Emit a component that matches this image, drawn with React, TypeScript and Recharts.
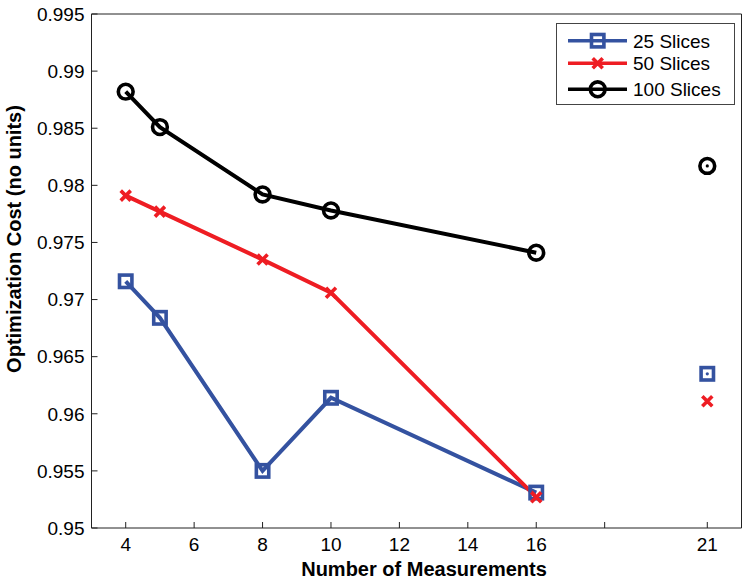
import { LineChart, Line, XAxis, YAxis, Legend, Label } from 'recharts';

const measurements = [4, 5, 8, 10, 16];
const slices25 = [0.9716, 0.9684, 0.955, 0.9614, 0.9531];
const slices50 = [0.9791, 0.9777, 0.9735, 0.9706, 0.9527];
const slices100 = [0.9882, 0.9851, 0.9792, 0.9778, 0.9741];

// lone points at 21 measurements (not joined to the lines)
const extraMeasurement = 21;
const extra25 = 0.9635;
const extra50 = 0.9611;
const extra100 = 0.9817;

const xTicks = [4, 6, 8, 10, 12, 14, 16, 18, 21];
const yTicks = [0.95, 0.955, 0.96, 0.965, 0.97, 0.975, 0.98, 0.985, 0.99, 0.995];

const BLUE = '#3452a0';
const RED = '#ee1d23';
const BLACK = '#000000';
const FONT = '"Liberation Sans", Arial, Helvetica, sans-serif';

const rows: any[] = measurements.map((m, i) => ({
  m,
  s25: slices25[i],
  s50: slices50[i],
  s100: slices100[i],
}));
rows.push({ m: extraMeasurement, e25: extra25, e50: extra50, e100: extra100 });

type Shape = 'square' | 'cross' | 'circle';

function marker(shape: Shape, color: string, cx: number, cy: number, key: string, centerDot = false) {
  const sw = 3.6;
  let body;
  if (shape === 'square') {
    body = <rect x={cx - 6.2} y={cy - 6.2} width={12.4} height={12.4} fill="none" stroke={color} strokeWidth={sw} />;
  } else if (shape === 'circle') {
    body = <circle cx={cx} cy={cy} r={7.4} fill="none" stroke={color} strokeWidth={sw} />;
  } else {
    body = (
      <path
        d={`M${cx - 5},${cy - 5}L${cx + 5},${cy + 5}M${cx - 5},${cy + 5}L${cx + 5},${cy - 5}`}
        stroke={color}
        strokeWidth={sw}
        fill="none"
      />
    );
  }
  return (
    <g key={key}>
      {body}
      {centerDot && shape !== 'cross' && <circle cx={cx} cy={cy} r={1.6} fill={color} />}
    </g>
  );
}

function makeDot(shape: Shape, color: string, centerDot = false) {
  return (props: any) => {
    const { cx, cy, index, value } = props;
    const key = `${shape}-${centerDot ? 'e' : 'l'}-${index}`;
    if (cx == null || cy == null || value == null) return <g key={key} />;
    return marker(shape, color, cx, cy, key, centerDot);
  };
}

const legendItems: { name: string; color: string; shape: Shape }[] = [
  { name: '25 Slices', color: BLUE, shape: 'square' },
  { name: '50 Slices', color: RED, shape: 'cross' },
  { name: '100 Slices', color: BLACK, shape: 'circle' },
];

function LegendBox() {
  const rowsY = [17.7, 40.3, 66.3];
  return (
    <svg width={180} height={83} style={{ display: 'block' }}>
      <rect x={0.5} y={0.5} width={178} height={81} fill="#fff" stroke="#444" strokeWidth={1} />
      {legendItems.map((item, i) => (
        <g key={item.name}>
          <line x1={12} x2={71} y1={rowsY[i]} y2={rowsY[i]} stroke={item.color} strokeWidth={3.6} />
          {marker(item.shape, item.color, 41.7, rowsY[i], 'lg' + i)}
          <text x={77} y={rowsY[i] + 6.8} fontSize={19} fontFamily={FONT} fill="#000">
            {item.name}
          </text>
        </g>
      ))}
    </svg>
  );
}

export default function App() {
  return (
    <div style={{ position: 'absolute', left: 0, top: 0, background: '#fff' }}>
      <LineChart
        width={751}
        height={584}
        data={rows}
        margin={{ top: 13, right: 8.5, bottom: 55, left: 90.5 }}
        style={{ fontFamily: FONT }}
      >
        <XAxis
          dataKey="m"
          type="number"
          domain={[3, 22]}
          ticks={xTicks}
          allowDataOverflow
          height={1}
          tickSize={-6}
          tickMargin={16}
          tickFormatter={(v: number) => (v === 18 ? '' : String(v))}
          stroke="#222"
          tick={{ fill: '#000', fontSize: 19, fontFamily: FONT }}
        >
          <Label
            content={() => (
              <text x={424} y={576} textAnchor="middle" fontSize={20} fontWeight="bold" fontFamily={FONT} fill="#000">
                Number of Measurements
              </text>
            )}
          />
        </XAxis>
        <XAxis
          xAxisId="top"
          orientation="top"
          type="number"
          domain={[3, 22]}
          ticks={xTicks}
          allowDataOverflow
          height={1}
          tickSize={-6}
          tick={false}
          stroke="#222"
        />
        <YAxis
          type="number"
          domain={[0.95, 0.995]}
          ticks={yTicks}
          allowDataOverflow
          width={1}
          tickSize={-6}
          tickMargin={13}
          tickFormatter={(v: number) => String(v)}
          stroke="#222"
          tick={{ fill: '#000', fontSize: 19, fontFamily: FONT }}
        >
          <Label
            content={() => (
              <text
                transform="translate(21,239) rotate(-90)"
                textAnchor="middle"
                fontSize={20}
                fontWeight="bold"
                fontFamily={FONT}
                fill="#000"
              >
                Optimization Cost (no units)
              </text>
            )}
          />
        </YAxis>
        <YAxis
          yAxisId="right"
          orientation="right"
          type="number"
          domain={[0.95, 0.995]}
          ticks={yTicks}
          allowDataOverflow
          width={1}
          tickSize={-6}
          tick={false}
          stroke="#222"
        />
        <Legend
          layout="horizontal"
          verticalAlign="middle"
          align="center"
          wrapperStyle={{ left: 556, top: 23, width: 180, height: 83 }}
          content={() => <LegendBox />}
        />
        <Line dataKey="s25" stroke={BLUE} strokeWidth={4} dot={makeDot('square', BLUE)} activeDot={false} isAnimationActive={false} />
        <Line dataKey="s50" stroke={RED} strokeWidth={4} dot={makeDot('cross', RED)} activeDot={false} isAnimationActive={false} />
        <Line dataKey="s100" stroke={BLACK} strokeWidth={4} dot={makeDot('circle', BLACK)} activeDot={false} isAnimationActive={false} />
        <Line dataKey="e25" stroke="none" dot={makeDot('square', BLUE, true)} activeDot={false} isAnimationActive={false} />
        <Line dataKey="e50" stroke="none" dot={makeDot('cross', RED, true)} activeDot={false} isAnimationActive={false} />
        <Line dataKey="e100" stroke="none" dot={makeDot('circle', BLACK, true)} activeDot={false} isAnimationActive={false} />
      </LineChart>
    </div>
  );
}
